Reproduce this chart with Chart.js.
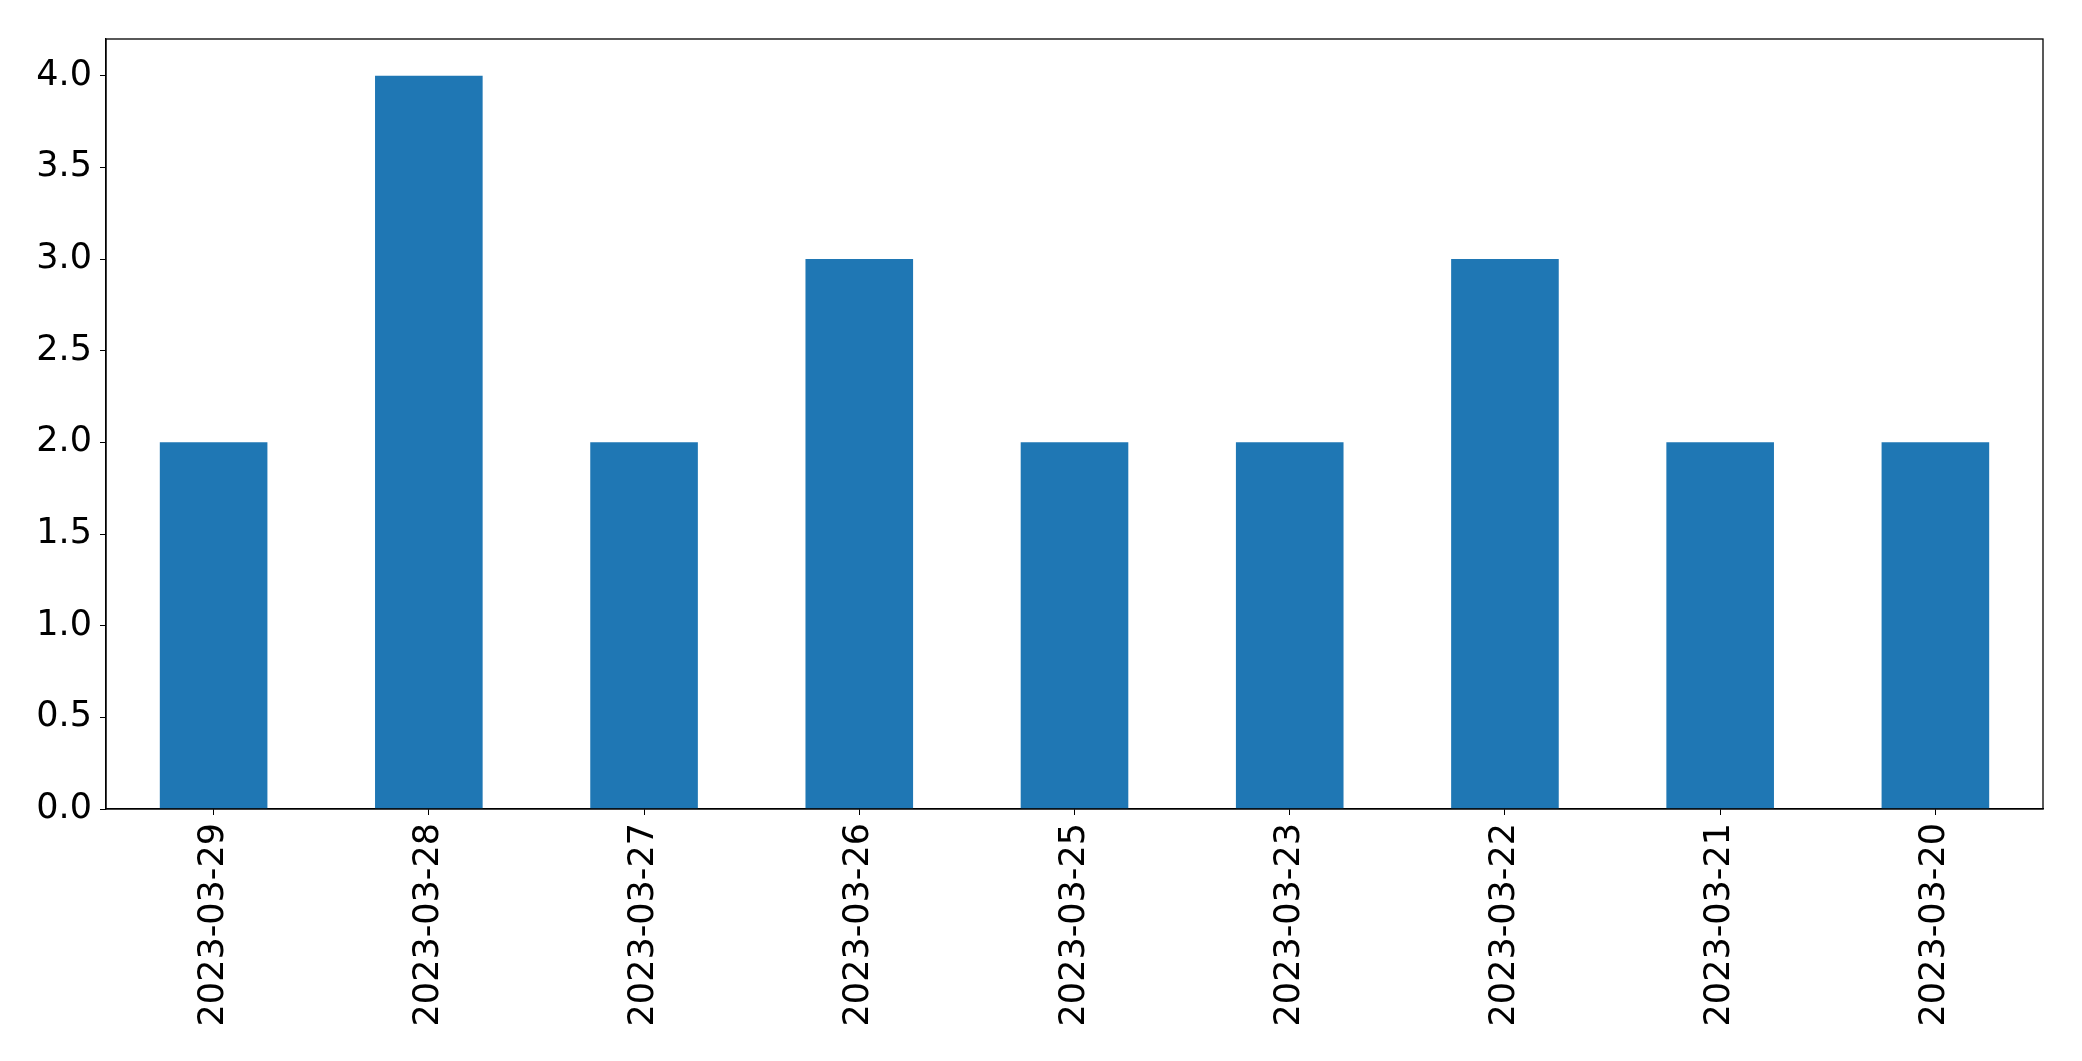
<!DOCTYPE html>
<html>
<head>
<meta charset="utf-8">
<script src="https://cdn.jsdelivr.net/npm/chart.js@4/dist/chart.umd.min.js"></script>
<style>
  html, body { margin: 0; padding: 0; background: #fff; }
  canvas { display: block; }
</style>
</head>
<body>
<canvas id="chart" width="2082" height="1061"></canvas>
<script>
const categories = ["2023-03-29", "2023-03-28", "2023-03-27", "2023-03-26", "2023-03-25",
                    "2023-03-23", "2023-03-22", "2023-03-21", "2023-03-20"];
const counts = [2, 4, 2, 3, 2, 2, 3, 2, 2];
const yTicks = [0, 0.5, 1, 1.5, 2, 2.5, 3, 3.5, 4];

const font = { family: "'DejaVu Sans', sans-serif", size: 35 };

// draw the top and right spines like the matplotlib frame
const frame = {
  id: "frame",
  afterDraw(chart) {
    const { ctx, chartArea: a } = chart;
    ctx.save();
    ctx.strokeStyle = "#000";
    ctx.lineWidth = 1.3;
    ctx.strokeRect(a.left, a.top, a.right - a.left, a.bottom - a.top);
    ctx.restore();
  }
};

new Chart(document.getElementById("chart").getContext("2d"), {
  type: "bar",
  data: {
    labels: categories,
    datasets: [{
      data: counts,
      backgroundColor: "#1f77b4",
      barPercentage: 0.5,
      categoryPercentage: 1.0,
    }]
  },
  options: {
    responsive: false,
    animation: false,
    layout: { padding: { top: 39, right: 39, left: 0, bottom: 0 } },
    plugins: { legend: { display: false }, tooltip: { enabled: false } },
    scales: {
      x: {
        grid: { display: true, drawOnChartArea: false, drawTicks: true, tickLength: 6, color: "#000", offset: false },
        border: { display: true, color: "#000", width: 1.3 },
        ticks: { color: "#000", font, minRotation: 90, maxRotation: 90, padding: 8, autoSkip: false },
        afterFit(scale) { scale.height = 252; }
      },
      y: {
        min: 0,
        max: 4.2,
        grid: { display: true, drawOnChartArea: false, drawTicks: true, tickLength: 6, color: "#000" },
        border: { display: true, color: "#000", width: 1.3 },
        ticks: { color: "#000", font, padding: 8, callback: (v) => Number(v).toFixed(1) },
        afterBuildTicks(scale) { scale.ticks = yTicks.map((v) => ({ value: v })); },
        afterFit(scale) { scale.width = 106; }
      }
    }
  },
  plugins: [frame]
});
</script>
</body>
</html>
